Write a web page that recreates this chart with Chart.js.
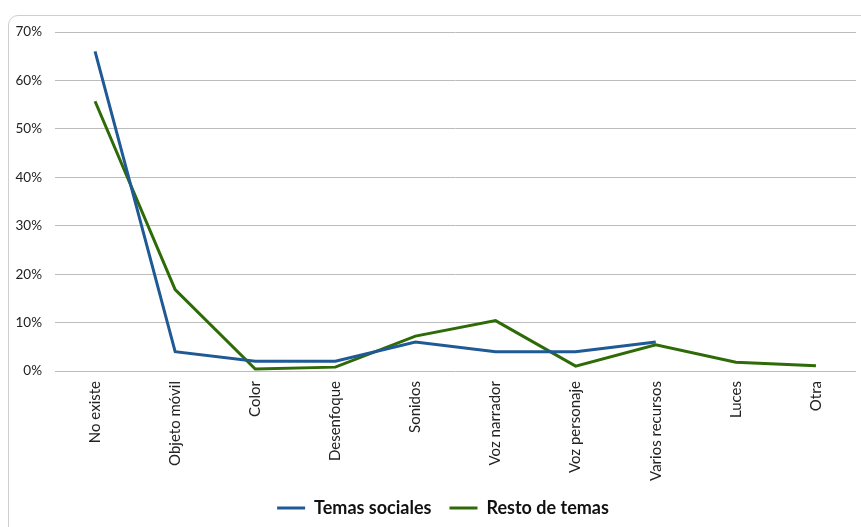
<!DOCTYPE html>
<html><head><meta charset="utf-8">
<script src="https://cdn.jsdelivr.net/npm/chart.js@4/dist/chart.umd.min.js"></script>
<style>
html,body{margin:0;padding:0;background:#fff;}
#wrap{position:relative;width:861px;height:527px;overflow:hidden;}
#frame{position:absolute;left:8px;top:15px;width:900px;height:600px;border:1px solid #cfcfcf;border-radius:10px;box-sizing:border-box;}
canvas{position:absolute;left:0;top:0;}
</style></head>
<body><div id="wrap"><div id="frame"></div><canvas id="c" width="861" height="527"></canvas></div>
<script>
const categories = ["No existe","Objeto móvil","Color","Desenfoque","Sonidos","Voz narrador","Voz personaje","Varios recursos","Luces","Otra"];
const temasSociales = [66, 4, 2, 2, 6, 4, 4, 6, null, null];
const restoDeTemas = [55.7, 16.8, 0.4, 0.8, 7.2, 10.4, 1.0, 5.4, 1.8, 1.1];
const yTicks = [0,10,20,30,40,50,60,70];

const legendShift = {
  id: 'legendShift',
  afterLayout(chart) {
    const lg = chart.legend;
    if (lg) { lg.left += 15; lg.right += 15; }
  }
};

new Chart(document.getElementById('c'), {
  type: 'line',
  data: {
    labels: categories,
    datasets: [
      {label: 'Temas sociales', data: temasSociales, borderColor: '#1f5a96', backgroundColor: '#1f5a96', borderWidth: 3, pointRadius: 0, tension: 0, spanGaps: false},
      {label: 'Resto de temas', data: restoDeTemas, borderColor: '#2e6b08', backgroundColor: '#2e6b08', borderWidth: 3, pointRadius: 0, tension: 0}
    ]
  },
  plugins: [legendShift],
  options: {
    responsive: false, animation: false,
    layout: {padding: {left: 0, right: 5, top: 32, bottom: 0}},
    scales: {
      x: {
        offset: true,
        grid: {display: false, drawTicks: false},
        border: {display: false},
        ticks: {minRotation: 90, maxRotation: 90, padding: 10, color: '#222', font: {family: 'Lato', size: 15}},
        afterFit: s => { s.height = 110; }
      },
      y: {
        min: 0, max: 70,
        afterBuildTicks: s => { s.ticks = yTicks.map(v => ({value: v})); },
        grid: {color: '#bcbcbc', lineWidth: 1, drawTicks: false},
        border: {display: false},
        ticks: {padding: 13, color: '#222', font: {family: 'Lato', size: 13.5}, callback: v => v + '%'},
        afterFit: s => { s.width = 55; }
      }
    },
    plugins: {
      legend: {
        position: 'bottom',
        labels: {usePointStyle: true, pointStyle: 'line', pointStyleWidth: 28, boxWidth: 28, color: '#111', padding: 18, font: {family: 'Lato', size: 18, weight: 'bold'}}
      },
      tooltip: {enabled: false}
    }
  }
});
</script></body></html>
